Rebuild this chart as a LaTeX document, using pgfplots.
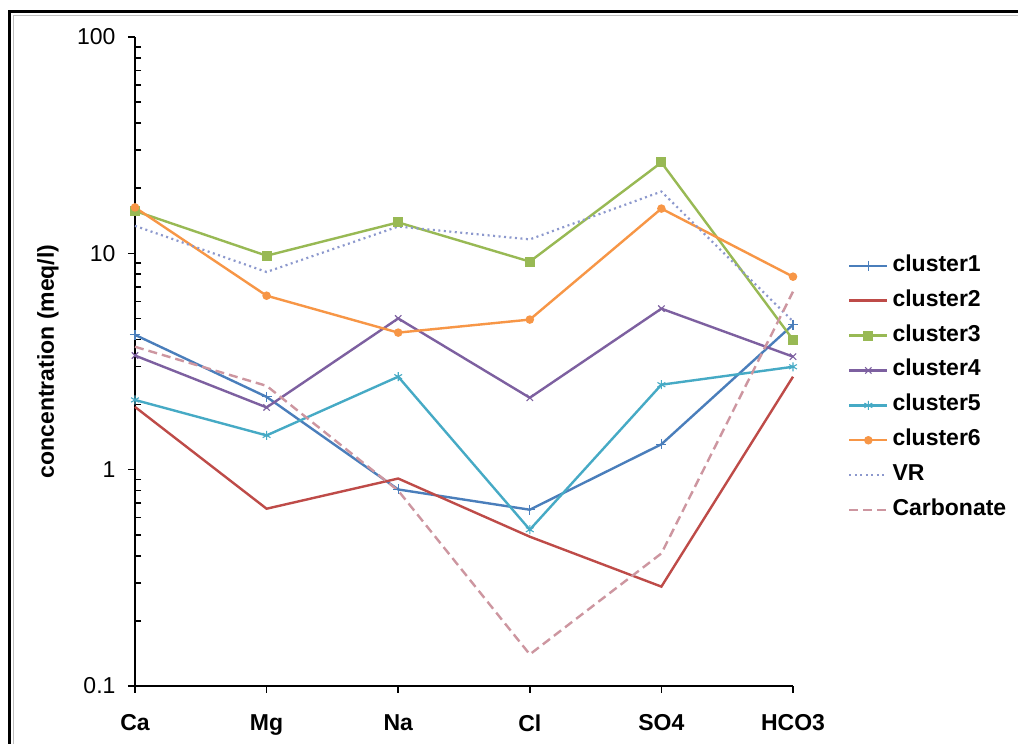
\documentclass[border=0pt]{standalone}
\usepackage{fontspec}
\setmainfont{Liberation Sans}
\usepackage{pgfplots}
\pgfplotsset{compat=1.18}
\definecolor{cA}{HTML}{4A7EBB}
\definecolor{cB}{HTML}{BE4B48}
\definecolor{cC}{HTML}{98B954}
\definecolor{cD}{HTML}{7D60A0}
\definecolor{cE}{HTML}{46AAC5}
\definecolor{cF}{HTML}{F79646}
\definecolor{cVR}{RGB}{140,152,205}
\definecolor{cCarb}{RGB}{205,150,160}
\begin{document}
\begin{tikzpicture}[x=1pt,y=1pt]
\useasboundingbox (0,0) rectangle (1018,744);
\fill[white] (0,0) rectangle (1018,744);
\draw[line width=3.5pt] (9.5,732.5) rectangle (1040,-20);
\draw[black!25, line width=1.2pt] (13.8,728.2) rectangle (1036,-16);
\begin{axis}[
  at={(135pt,58pt)}, anchor=south west,
  scale only axis, width=658pt, height=649pt,
  ymode=log, ymin=0.1, ymax=100,
  xmin=0, xmax=5,
  axis x line*=bottom, axis y line*=left,
  axis line style={line width=1.8pt, black},
  xtick={0,1,2,3,4,5},
  xticklabels={Ca,Mg,Na,Cl,SO4,HCO3},
  ytick={0.1,1,10,100},
  yticklabels={0.1,1,10,100},
  minor ytick={0.2,0.3,0.4,0.5,0.6,0.7,0.8,0.9,2,3,4,5,6,7,8,9,20,30,40,50,60,70,80,90},
  tick align=outside,
  major tick length=7pt,
  minor tick length=-6pt,
  every tick/.style={black, line width=1.6pt},
  /pgf/number format/assume math mode=true,
  xticklabel style={font=\bfseries\fontsize{23}{27}\selectfont, yshift=-18pt},
  yticklabel style={font=\fontsize{23}{27}\selectfont, xshift=-9pt},
  ylabel={concentration (meq/l)},
  ylabel style={font=\bfseries\fontsize{23}{27}\selectfont, at={(axis description cs:-0.1322,0.5)}, anchor=center},
  clip=false,
  legend cell align=left,
  legend image code/.code={\draw[mark repeat=2,mark phase=2,#1] plot coordinates {(0pt,0pt) (19pt,0pt) (38pt,0pt)};},
  legend style={at={(1.0835,0.664)}, anchor=north west, draw=none, fill=none,
    font=\bfseries\fontsize{23}{27}\selectfont, inner sep=0pt, column sep=4pt, row sep=13.9pt,
    nodes={inner sep=0pt, text height=16pt, text depth=5pt}},
]
\addplot[color=cA, line width=2.4pt, mark=+, mark size=5pt, mark options={line width=1.2pt}] coordinates {(0,4.2) (1,2.17) (2,0.81) (3,0.653) (4,1.31) (5,4.68)};
\addlegendentry{cluster1}
\addplot[color=cB, line width=2.4pt] coordinates {(0,1.95) (1,0.66) (2,0.91) (3,0.49) (4,0.288) (5,2.69)};
\addlegendentry{cluster2}
\addplot[color=cC, line width=2.4pt, mark=square*, mark size=3.8pt] coordinates {(0,15.7) (1,9.75) (2,13.9) (3,9.16) (4,26.3) (5,3.99)};
\addlegendentry{cluster3}
\addplot[color=cD, line width=2.4pt, mark=x, mark size=4.5pt, mark options={line width=1.1pt}] coordinates {(0,3.37) (1,1.94) (2,5.0) (3,2.15) (4,5.55) (5,3.33)};
\addlegendentry{cluster4}
\addplot[color=cE, line width=2.4pt, mark=asterisk, mark size=4.5pt, mark options={line width=1.1pt}] coordinates {(0,2.1) (1,1.44) (2,2.69) (3,0.528) (4,2.47) (5,2.99)};
\addlegendentry{cluster5}
\addplot[color=cF, line width=2.4pt, mark=*, mark size=3pt] coordinates {(0,16.3) (1,6.37) (2,4.3) (3,4.94) (4,16.1) (5,7.8)};
\addlegendentry{cluster6}
\addplot[color=cVR, line width=2.2pt, dash pattern=on 2pt off 3.5pt] coordinates {(0,13.4) (1,8.2) (2,13.3) (3,11.6) (4,19.3) (5,4.85)};
\addlegendentry{VR}
\addplot[color=cCarb, line width=2.4pt, dash pattern=on 9pt off 5pt] coordinates {(0,3.7) (1,2.44) (2,0.8) (3,0.14) (4,0.41) (5,6.65)};
\addlegendentry{Carbonate}
\end{axis}
\end{tikzpicture}
\end{document}
